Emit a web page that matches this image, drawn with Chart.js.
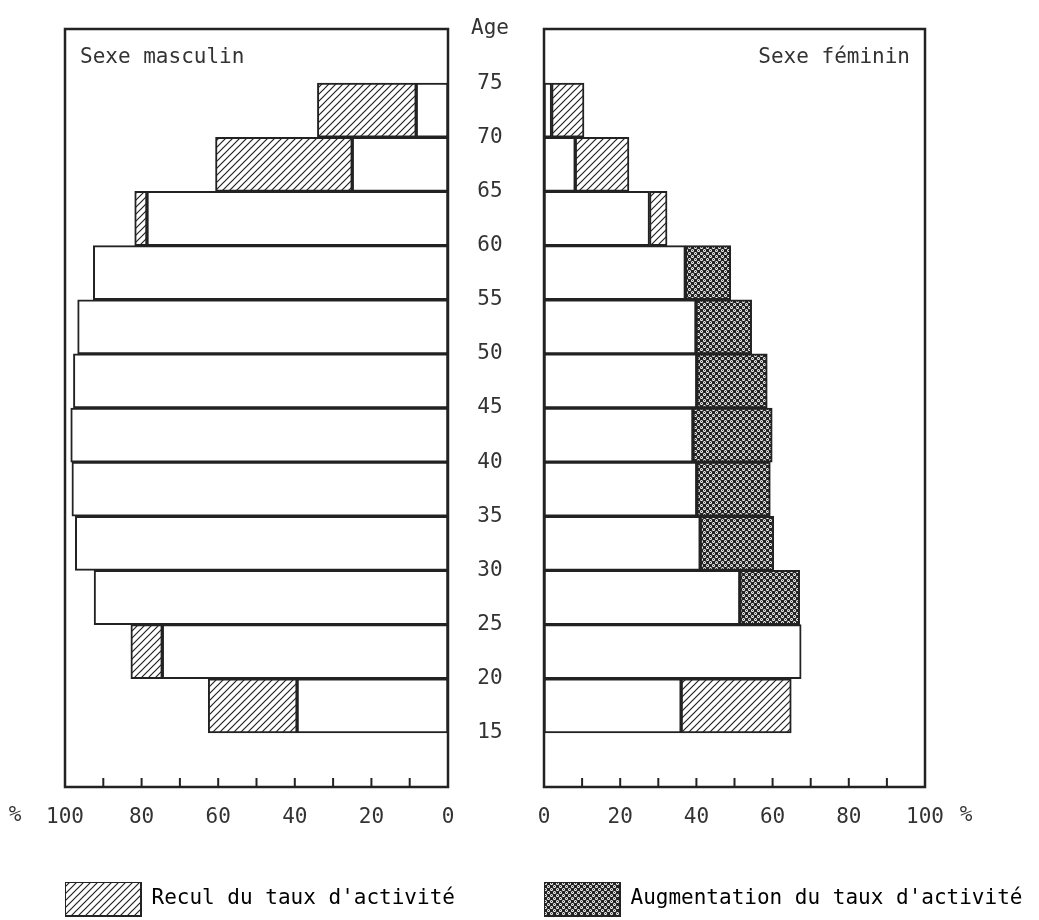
<!DOCTYPE html>
<html>
<head>
<meta charset="utf-8">
<script src="https://cdn.jsdelivr.net/npm/chart.js@4.4.1/dist/chart.umd.min.js"></script>
<style>
  body { margin: 0; background: #fff; }
  #cadre { position: relative; width: 1039px; height: 920px; overflow: hidden; }
  canvas { position: absolute; top: 0; }
  #hommes { left: 0; }
  #femmes { left: 532px; }
</style>
</head>
<body>
<div id="cadre">
  <canvas id="hommes" width="532" height="926"></canvas>
  <canvas id="femmes" width="507" height="926"></canvas>
</div>
<script>
// groupes d'âge (début de la tranche quinquennale)
const ages = [15, 20, 25, 30, 35, 40, 45, 50, 55, 60, 65, 70];

// taux d'activité (%) : période ancienne / période récente
const hommesAvant = [62.6, 82.8, 92.4, 97.3, 98.2, 98.5, 97.8, 96.7, 92.6, 81.8, 60.7, 34.1];
const hommesApres = [39.4, 74.6, 92.4, 97.3, 98.2, 98.5, 97.8, 96.7, 92.6, 78.6, 25.0, 8.3];
const femmesAvant = [64.9, 67.5, 51.4, 41.0, 40.1, 39.1, 40.1, 39.9, 37.1, 32.3, 22.3, 10.5];
const femmesApres = [36.0, 67.5, 67.1, 60.3, 59.4, 59.9, 58.6, 54.5, 49.0, 27.7, 8.2, 2.0];

const police = '"DejaVu Sans Mono", "Liberation Mono", monospace';
const encre = '#222';
const texte = '#333';

Chart.defaults.font.family = police;
Chart.defaults.font.size = 21;
Chart.defaults.color = texte;

function motifHachures() {
  const c = document.createElement('canvas');
  c.width = c.height = 7;
  const g = c.getContext('2d');
  g.fillStyle = '#fff';
  g.fillRect(0, 0, 7, 7);
  g.strokeStyle = encre;
  g.lineWidth = 1.2;
  g.beginPath();
  g.moveTo(-1, 8); g.lineTo(8, -1);
  g.moveTo(-1, 1); g.lineTo(1, -1);
  g.moveTo(6, 8); g.lineTo(8, 6);
  g.stroke();
  return g.createPattern(c, 'repeat');
}

function motifPoints() {
  const c = document.createElement('canvas');
  c.width = c.height = 6;
  const g = c.getContext('2d');
  g.fillStyle = encre;
  g.fillRect(0, 0, 6, 6);
  [[1.5, 1.5], [4.5, 4.5]].forEach(([x, y]) => {
    g.fillStyle = '#fff';
    g.beginPath(); g.arc(x, y, 1.5, 0, 2 * Math.PI); g.fill();
    g.fillStyle = encre;
    g.beginPath(); g.arc(x, y, 0.6, 0, 2 * Math.PI); g.fill();
  });
  return g.createPattern(c, 'repeat');
}

const hachures = motifHachures();
const points = motifPoints();

function jeux(avant, apres) {
  const commun = {
    borderColor: encre, borderWidth: 2, borderSkipped: false,
    grouped: false, barPercentage: 1, categoryPercentage: 1
  };
  const base = ages.map((a, i) => ({ y: a + 2.5, x: [0, Math.min(avant[i], apres[i])] }));
  const ecart = [];
  ages.forEach((a, i) => {
    if (avant[i] !== apres[i]) {
      ecart.push({ y: a + 2.5, x: [Math.min(avant[i], apres[i]), Math.max(avant[i], apres[i])], recul: apres[i] < avant[i] });
    }
  });
  return [
    Object.assign({ label: 'taux', data: base, backgroundColor: '#fff' }, commun),
    Object.assign({ label: 'variation', data: ecart,
      backgroundColor: c => (c.raw && c.raw.recul) ? hachures : points }, commun)
  ];
}

// cadre, graduations intérieures, titre de panneau et signe %
const habillage = {
  id: 'habillage',
  afterDatasetsDraw(chart, args, o) {
    const { ctx, chartArea: a } = chart;
    const x = chart.scales.x;
    ctx.save();
    ctx.strokeStyle = encre;
    ctx.lineWidth = 2.5;
    ctx.strokeRect(a.left, a.top, a.width, a.height);
    ctx.lineWidth = 2;
    x.ticks.forEach(t => {
      if (t.value <= x.min || t.value >= x.max) return;
      const px = x.getPixelForValue(t.value);
      ctx.beginPath();
      ctx.moveTo(px, a.bottom);
      ctx.lineTo(px, a.bottom - 9);
      ctx.stroke();
    });
    ctx.fillStyle = texte;
    ctx.font = '21px ' + police;
    ctx.textBaseline = 'middle';
    ctx.textAlign = o.align;
    ctx.fillText(o.titre, o.align === 'left' ? a.left + 15 : a.right - 15, a.top + 29);
    ctx.textAlign = 'center';
    ctx.textBaseline = 'top';
    ctx.fillText('%', x.getPixelForValue(100) + o.pct, x.top + x.options.ticks.padding);
    ctx.restore();
  }
};

function axeX(inverse) {
  return {
    type: 'linear', reverse: inverse, min: 0, max: 100,
    grid: { display: false, drawTicks: false },
    border: { display: false },
    ticks: { stepSize: 10, padding: 18, autoSkip: false, maxRotation: 0, minRotation: 0,
      callback: v => v % 20 === 0 ? v : '' },
    afterFit: s => { s.height = 95; s.paddingLeft = 0; s.paddingRight = 0; }
  };
}

function legende(texteLegende, motif) {
  return {
    position: 'bottom', align: 'start',
    onClick: null,
    labels: {
      boxWidth: 76, boxHeight: 34, padding: 0, color: texte,
      font: { size: 21 },
      generateLabels: () => [{ text: texteLegende, fillStyle: motif, strokeStyle: encre, lineWidth: 2, hidden: false }]
    }
  };
}

new Chart(document.getElementById('hommes'), {
  type: 'bar',
  data: { datasets: jeux(hommesAvant, hommesApres) },
  options: {
    indexAxis: 'y', responsive: false, animation: false, devicePixelRatio: 1,
    layout: { padding: { left: 65, top: 29, right: 0, bottom: 0 } },
    scales: {
      x: axeX(true),
      y: {
        type: 'linear', position: 'right', min: 10, max: 80, offset: false,
        grid: { display: false, drawTicks: false },
        border: { display: false },
        ticks: { stepSize: 5, padding: 23, crossAlign: 'center', autoSkip: false,
          callback: v => v === 80 ? 'Age' : (v === 10 ? '' : v) },
        afterFit: s => { s.width = 84; s.paddingTop = 0; s.paddingBottom = 0; }
      }
    },
    plugins: {
      legend: legende("Recul du taux d'activité", hachures),
      tooltip: { enabled: false },
      habillage: { titre: 'Sexe masculin', align: 'left', pct: -50 }
    }
  },
  plugins: [habillage]
});

new Chart(document.getElementById('femmes'), {
  type: 'bar',
  data: { datasets: jeux(femmesAvant, femmesApres) },
  options: {
    indexAxis: 'y', responsive: false, animation: false, devicePixelRatio: 1,
    layout: { padding: { left: 12, top: 29, right: 0, bottom: 0 } },
    scales: {
      x: axeX(false),
      y: {
        type: 'linear', position: 'right', min: 10, max: 80, offset: false,
        grid: { display: false, drawTicks: false },
        border: { display: false },
        ticks: { display: false, stepSize: 5 },
        afterFit: s => { s.width = 114; s.paddingTop = 0; s.paddingBottom = 0; }
      }
    },
    plugins: {
      legend: legende("Augmentation du taux d'activité", points),
      tooltip: { enabled: false },
      habillage: { titre: 'Sexe féminin', align: 'right', pct: 41 }
    }
  },
  plugins: [habillage]
});
</script>
</body>
</html>
